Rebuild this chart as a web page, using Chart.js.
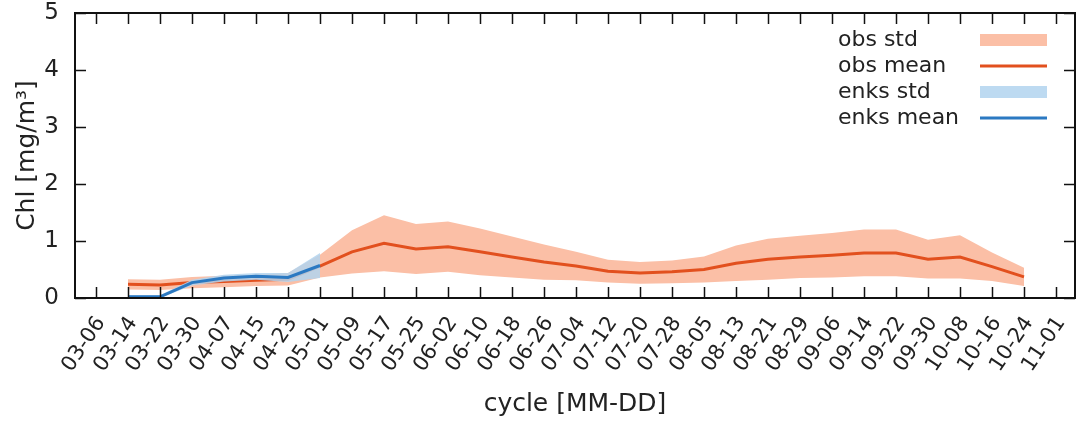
<!DOCTYPE html>
<html>
<head>
<meta charset="utf-8">
<title>Chl cycle</title>
<script src="https://cdn.jsdelivr.net/npm/chart.js@4.4.1/dist/chart.umd.min.js"></script>
<style>
  html, body { margin: 0; padding: 0; background: #fff; }
  canvas { display: block; }
</style>
</head>
<body>
<canvas id="chlChart" width="1076" height="425"></canvas>
<script>
// x tick labels, one every 8 days
const tickLabels = ["03-06", "03-14", "03-22", "03-30", "04-07", "04-15", "04-23", "05-01",
    "05-09", "05-17", "05-25", "06-02", "06-10", "06-18", "06-26", "07-04", "07-12", "07-20",
    "07-28", "08-05", "08-13", "08-21", "08-29", "09-06", "09-14", "09-22", "09-30", "10-08",
    "10-16", "10-24", "11-01"];

// observations
const obsDates = ["03-14", "03-22", "03-30", "04-07", "04-15", "04-23", "05-01", "05-09",
    "05-17", "05-25", "06-02", "06-10", "06-18", "06-26", "07-04", "07-12", "07-20", "07-28",
    "08-05", "08-13", "08-21", "08-29", "09-06", "09-14", "09-22", "09-30", "10-08", "10-16", "10-24"];
const obsMean = [0.24, 0.23, 0.27, 0.29, 0.31, 0.33, 0.56, 0.81, 0.96, 0.86, 0.90, 0.81, 0.72,
    0.63, 0.56, 0.47, 0.44, 0.46, 0.50, 0.61, 0.68, 0.72, 0.75, 0.79, 0.79, 0.68, 0.72, 0.55, 0.37];
const obsStd = [0.09, 0.09, 0.10, 0.10, 0.10, 0.11, 0.20, 0.38, 0.49, 0.44, 0.44, 0.41, 0.36,
    0.31, 0.25, 0.20, 0.19, 0.20, 0.23, 0.31, 0.36, 0.37, 0.39, 0.41, 0.41, 0.34, 0.38, 0.25, 0.16];

// EnKS analysis
const enksDates = ["03-14", "03-22", "03-30", "04-07", "04-15", "04-23", "05-01"];
const enksMean = [0.02, 0.02, 0.27, 0.35, 0.38, 0.36, 0.57];
const enksStd = [0.03, 0.03, 0.05, 0.06, 0.06, 0.08, 0.22];

const FONT = "'DejaVu Sans', sans-serif";
const OBS_FILL = "rgb(251,191,166)";
const OBS_LINE = "#e2501e";
const ENKS_FILL = "rgba(178,212,238,0.85)";
const ENKS_LINE = "#2b79c2";

const day0 = Date.UTC(2017, 2, 6);
function dayOf(mmdd) {
    const [m, d] = mmdd.split("-").map(Number);
    return (Date.UTC(2017, m - 1, d) - day0) / 86400000;
}

function series(dates, mean, std, k) {
    return dates.map((d, i) => ({ x: dayOf(d), y: Math.max(0, mean[i] + k * std[i]) }));
}

const legendItems = [
    { text: "obs std", color: OBS_FILL, width: 12 },
    { text: "obs mean", color: OBS_LINE, width: 3 },
    { text: "enks std", color: ENKS_FILL, width: 12 },
    { text: "enks mean", color: ENKS_LINE, width: 3 }
];

// gnuplot-like frame: full border, inward ticks on all sides, key in the top right
const framePlugin = {
    id: "frame",
    afterDatasetsDraw(chart) {
        const { ctx, chartArea: a, scales: { x, y } } = chart;
        ctx.save();
        ctx.strokeStyle = "#111";
        ctx.lineWidth = 1.5;
        ctx.beginPath();
        x.ticks.forEach(t => {
            const px = Math.round(x.getPixelForValue(t.value)) + 0.5;
            ctx.moveTo(px, a.bottom); ctx.lineTo(px, a.bottom - 11);
            ctx.moveTo(px, a.top); ctx.lineTo(px, a.top + 11);
        });
        y.ticks.forEach(t => {
            const py = Math.round(y.getPixelForValue(t.value)) + 0.5;
            ctx.moveTo(a.left, py); ctx.lineTo(a.left + 11, py);
            ctx.moveTo(a.right, py); ctx.lineTo(a.right - 11, py);
        });
        ctx.stroke();
        ctx.lineWidth = 2;
        ctx.strokeRect(a.left, a.top, a.right - a.left, a.bottom - a.top);

        ctx.font = "22px " + FONT;
        ctx.fillStyle = "#222";
        ctx.textBaseline = "middle";
        legendItems.forEach((it, i) => {
            const ry = 40 + i * 26;
            ctx.fillText(it.text, 838, ry);
            ctx.fillStyle = it.color;
            ctx.fillRect(980, ry - it.width / 2, 67, it.width);
            ctx.fillStyle = "#222";
        });
        ctx.restore();
    }
};

new Chart(document.getElementById("chlChart"), {
    type: "line",
    data: {
        datasets: [
            { label: "obs low", data: series(obsDates, obsMean, obsStd, -1), borderWidth: 0,
              pointRadius: 0, fill: false, order: 6 },
            { label: "obs std", data: series(obsDates, obsMean, obsStd, 1), borderWidth: 0,
              pointRadius: 0, backgroundColor: OBS_FILL, fill: "-1", order: 5 },
            { label: "obs mean", data: series(obsDates, obsMean, obsStd, 0), borderColor: OBS_LINE,
              borderWidth: 3, pointRadius: 0, fill: false, order: 4 },
            { label: "enks low", data: series(enksDates, enksMean, enksStd, -1), borderWidth: 0,
              pointRadius: 0, fill: false, order: 3 },
            { label: "enks std", data: series(enksDates, enksMean, enksStd, 1), borderWidth: 0,
              pointRadius: 0, backgroundColor: ENKS_FILL, fill: "-1", order: 2 },
            { label: "enks mean", data: series(enksDates, enksMean, enksStd, 0), borderColor: ENKS_LINE,
              borderWidth: 3, pointRadius: 0, fill: false, order: 1 }
        ]
    },
    options: {
        responsive: false,
        animation: false,
        events: [],
        layout: { padding: { top: 13, right: 1, left: 0, bottom: 0 } },
        plugins: {
            legend: { display: false },
            tooltip: { enabled: false }
        },
        scales: {
            x: {
                type: "linear",
                min: -5.25,
                max: 244.75,
                grid: { display: false, drawTicks: false },
                border: { display: false },
                afterBuildTicks: s => { s.ticks = tickLabels.map((_, i) => ({ value: i * 8 })); },
                afterFit: s => {
                    s.height = 127;
                    s.paddingLeft = 0;
                    s.paddingRight = 0;
                },
                ticks: {
                    autoSkip: false,
                    minRotation: 56,
                    maxRotation: 56,
                    padding: 14,
                    labelOffset: 5,
                    color: "#222",
                    font: { family: FONT, size: 21 },
                    callback: (v, i) => tickLabels[i]
                },
                title: {
                    display: true,
                    text: "cycle [MM-DD]",
                    color: "#222",
                    font: { family: FONT, size: 25 },
                    padding: { top: 0, bottom: 6 }
                }
            },
            y: {
                min: 0,
                max: 5,
                grid: { display: false, drawTicks: false },
                border: { display: false },
                afterFit: s => {
                    s.width = 75;
                    s.paddingTop = 0;
                    s.paddingBottom = 0;
                },
                ticks: {
                    stepSize: 1,
                    padding: 16,
                    color: "#222",
                    font: { family: FONT, size: 23 }
                },
                title: {
                    display: true,
                    text: "Chl [mg/m³]",
                    color: "#222",
                    font: { family: FONT, size: 25 },
                    padding: { top: 12, bottom: 0 }
                }
            }
        }
    },
    plugins: [framePlugin]
});
</script>
</body>
</html>
